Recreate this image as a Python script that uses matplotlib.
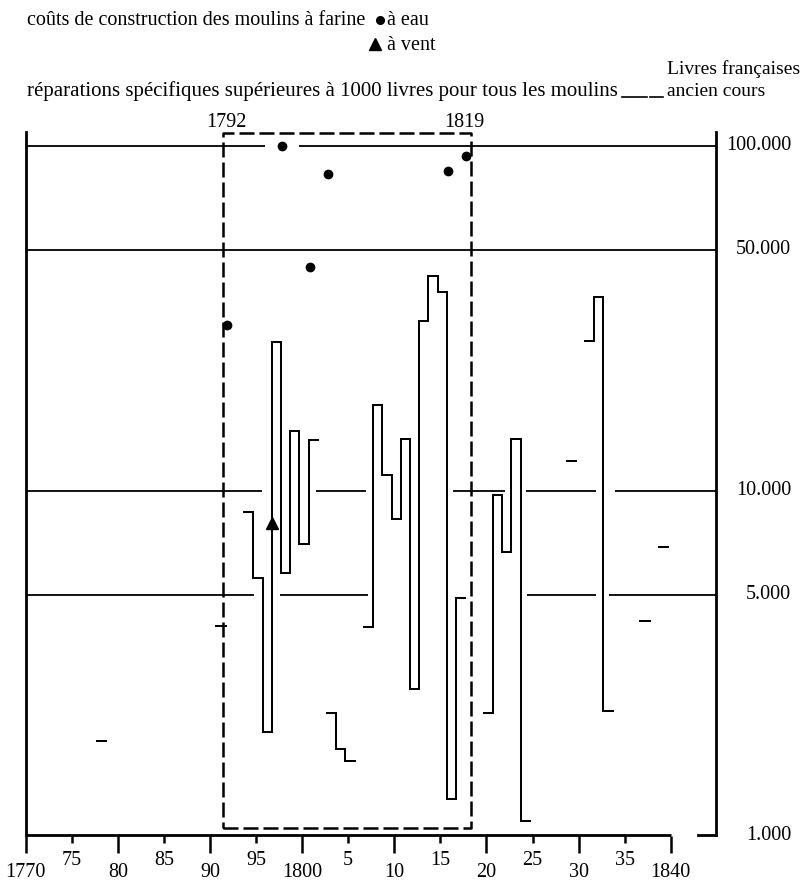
import numpy as np
import matplotlib.pyplot as plt
from matplotlib.lines import Line2D
from matplotlib.ticker import NullLocator

# réparations > 1000 livres, séries d'années consécutives
rep_a_years = [1794, 1795, 1796, 1797, 1798, 1799, 1800, 1801]
rep_a_vals = [8700, 5570, 2000, 27000, 5760, 14900, 6990, 14000]
rep_b_years = [1803, 1804, 1805]
rep_b_vals = [2270, 1780, 1640]
rep_c_years = [1807, 1808, 1809, 1810, 1811, 1812, 1813, 1814, 1815, 1816, 1817]
rep_c_vals = [4030, 17700, 11100, 8280, 14100, 2660, 31100, 42000, 37800, 1280, 4880]
rep_d_years = [1820, 1821, 1822, 1823, 1824]
rep_d_vals = [2270, 9720, 6630, 14100, 1100]
rep_e_years = [1831, 1832, 1833]
rep_e_vals = [27200, 36500, 2300]
# années isolées
rep_single_years = [1778, 1791, 1829, 1837, 1839]
rep_single_vals = [1880, 4050, 12200, 4200, 6880]

# coûts de construction
eau_years = [1792, 1798, 1801, 1803, 1816, 1818]
eau_vals = [30300, 100000, 44700, 83000, 84800, 93700]
vent_years = [1797]
vent_vals = [8080]

major_ticks = [1770, 1780, 1790, 1800, 1810, 1820, 1830, 1840]
major_labels = ['1770', '80', '90', '1800', '10', '20', '30', '1840']
minor_ticks = [1775, 1785, 1795, 1805, 1815, 1825, 1835]
minor_labels = ['75', '85', '95', '5', '15', '25', '35']

ref_vals = [100000, 50000, 10000, 5000, 1000]
ref_labels = ['100.000', '50.000', '10.000', '5.000', '1.000']

# lignes de repère (avec interruptions)
grid_segments = {
    100000: [(1770, 1796.0), (1799.7, 1844.9)],
    50000: [(1770, 1844.9)],
    10000: [(1770, 1795.65), (1801.5, 1806.9), (1816.4, 1822.0), (1824.3, 1831.9), (1834.0, 1844.9)],
    5000: [(1770, 1794.8), (1797.6, 1807.1), (1824.4, 1831.9), (1833.3, 1844.9)],
}

W, H = 805, 881
plt.rcParams['font.family'] = ['Liberation Serif', 'DejaVu Serif']
FS = 14.5

fig = plt.figure(figsize=(W / 100, H / 100), dpi=100)
ax = fig.add_axes([25.7 / W, (H - 835.5) / H, 691.1 / W, 710.2 / H])
ax.set_xlim(1770, 1845)
ax.set_yscale('log')
ax.set_ylim(1000, 10 ** 5.06)
for s in ax.spines.values():
    s.set_visible(False)
ax.yaxis.set_major_locator(NullLocator())
ax.yaxis.set_minor_locator(NullLocator())

lw = 1.45
k = 'black'
shift = -0.3


def step_xy(years, vals):
    xs, ys = [], []
    for yr, v in zip(years, vals):
        xs += [yr + shift, yr + 1 + shift]
        ys += [v, v]
    return xs, ys


# repères horizontaux
for lvl, segs in grid_segments.items():
    for a, b in segs:
        ax.plot([a, b], [lvl, lvl], color=k, lw=1.3, solid_capstyle='butt')

# axes
ytop = 10 ** 5.04
ax.plot([1770, 1770], [1000, ytop], color=k, lw=2, clip_on=False)
ax.plot([1844.9, 1844.9], [1000, ytop], color=k, lw=2, clip_on=False)
ax.plot([1770, 1840], [1000, 1000], color=k, lw=2, clip_on=False, solid_capstyle='butt')
ax.plot([1843.0, 1844.9], [1000, 1000], color=k, lw=2, clip_on=False)

# séries de réparations
for yrs, vals in [(rep_a_years, rep_a_vals), (rep_b_years, rep_b_vals),
                  (rep_c_years, rep_c_vals), (rep_d_years, rep_d_vals),
                  (rep_e_years, rep_e_vals)]:
    xs, ys = step_xy(yrs, vals)
    ax.plot(xs, ys, color=k, lw=lw, solid_joinstyle='miter')
for yr, v in zip(rep_single_years, rep_single_vals):
    xs, ys = step_xy([yr], [v])
    ax.plot(xs, ys, color=k, lw=lw)

# période 1792-1819
bx0, bx1 = 1791.4, 1818.3
by0, by1 = 1050, 10 ** 5.038
ax.plot([bx0, bx1, bx1, bx0, bx0], [by0, by0, by1, by1, by0], color=k, lw=1.8,
        ls=(0, (6, 2)), clip_on=False)
ax.text(bx0 + 0.35, 10 ** 5.055, '1792', ha='center', va='baseline', fontsize=FS)
ax.text(bx1 - 0.75, 10 ** 5.055, '1819', ha='center', va='baseline', fontsize=FS)

# coûts de construction
ax.plot(np.array(eau_years) - 0.2, eau_vals, 'o', color=k, ms=6, clip_on=False)
ax.plot(np.array(vent_years) - 0.25, vent_vals, '^', color=k, ms=8.5, clip_on=False)

# graduations
ax.set_xticks(major_ticks)
ax.set_xticklabels(major_labels, fontsize=FS)
ax.set_xticks(minor_ticks, minor=True)
ax.set_xticklabels(minor_labels, minor=True, fontsize=FS)
ax.tick_params(axis='x', which='major', direction='out', length=12, width=1.8, pad=7.5)
ax.tick_params(axis='x', which='minor', direction='out', length=5, width=1.8, pad=6.5)

for v, lab in zip(ref_vals, ref_labels):
    ax.text(1.1074, v, lab, transform=ax.get_yaxis_transform(), ha='right',
            va='center', fontsize=FS)


# légende
def fx(px):
    return px / W


def fy(py):
    return 1 - py / H


fig.text(fx(27), fy(25), 'coûts de construction des moulins à farine', fontsize=FS,
         va='baseline')
fig.add_artist(Line2D([fx(380)], [fy(20)], marker='o', ms=5.5, color=k, ls='none'))
fig.text(fx(387), fy(25), 'à eau', fontsize=FS, va='baseline')
fig.add_artist(Line2D([fx(374.5)], [fy(44)], marker='^', ms=8.5, color=k, ls='none'))
fig.text(fx(387), fy(50), 'à vent', fontsize=FS, va='baseline')
fig.text(fx(27), fy(96), 'réparations spécifiques supérieures à 1000 livres pour tous les moulins',
         fontsize=15, va='baseline')
fig.add_artist(Line2D([fx(622), fx(647)], [fy(97), fy(97)], color=k, lw=1.2))
fig.add_artist(Line2D([fx(650), fx(663)], [fy(97), fy(97)], color=k, lw=1.2))
fig.text(fx(667), fy(74), 'Livres françaises', fontsize=14, va='baseline')
fig.text(fx(667), fy(96), 'ancien cours', fontsize=14, va='baseline')

fig.savefig('out.png', dpi=100)
